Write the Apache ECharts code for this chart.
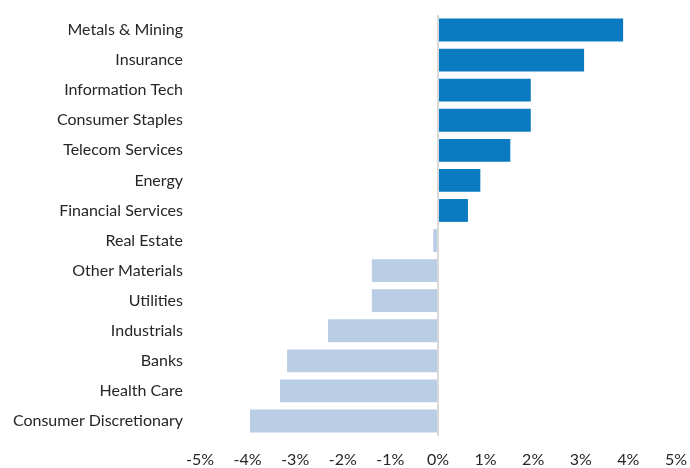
<!DOCTYPE html>
<html>
<head>
<meta charset="utf-8">
<script src="https://cdn.jsdelivr.net/npm/echarts@6/dist/echarts.min.js"></script>
<style>
    html, body { margin: 0; padding: 0; background: #fff; }
    #chart { width: 690px; height: 468px; }
</style>
</head>
<body>
<div id="chart"></div>
<script>
// 行业分类
const sectors = [
    'Metals & Mining', 'Insurance', 'Information Tech', 'Consumer Staples',
    'Telecom Services', 'Energy', 'Financial Services', 'Real Estate',
    'Other Materials', 'Utilities', 'Industrials', 'Banks', 'Health Care',
    'Consumer Discretionary'
];
// 收益率(%)
const returns = [3.89, 3.07, 1.95, 1.95, 1.52, 0.89, 0.63, -0.10, -1.39, -1.39, -2.31, -3.17, -3.32, -3.95];
// 横轴范围
const xMin = -5;
const xMax = 5;

const chart = echarts.init(document.getElementById('chart'));
const option = {
    animation: false,
    textStyle: { fontFamily: 'Lato' },
    grid: {
        left: 200,
        right: 14,
        top: 15,
        bottom: 26
    },
    xAxis: {
        type: 'value',
        min: xMin,
        max: xMax,
        interval: 1,
        axisLine: { show: false },
        axisTick: { show: false },
        splitLine: { show: false },
        axisLabel: {
            formatter: '{value}%',
            color: '#262626',
            fontSize: 16,
            margin: 16
        }
    },
    yAxis: {
        type: 'category',
        data: sectors,
        inverse: true,
        axisLine: { show: false, onZero: false },
        axisTick: { show: false },
        axisLabel: {
            color: '#262626',
            fontSize: 16,
            margin: 17
        }
    },
    series: [{
        type: 'bar',
        data: returns,
        barCategoryGap: '24%',
        itemStyle: {
            color: function (p) {
                return p.value >= 0 ? '#0B7BC1' : '#B9CDE5';
            }
        },
        markLine: {
            silent: true,
            symbol: 'none',
            label: { show: false },
            lineStyle: { color: '#D9D9D9', width: 2, type: 'solid' },
            data: [{ xAxis: 0 }]
        }
    }]
};
chart.setOption(option);
</script>
</body>
</html>
